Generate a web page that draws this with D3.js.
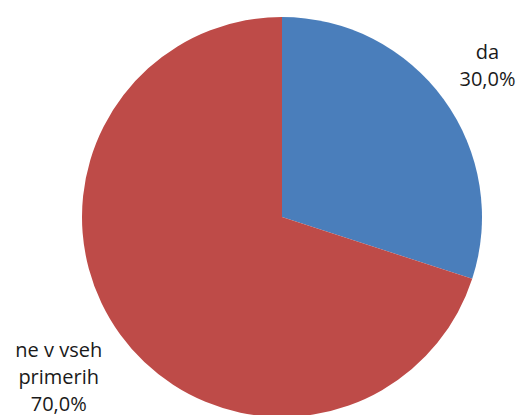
<!DOCTYPE html>
<meta charset='utf-8'>
<title>Pie</title>
<style>
body {
  margin: 0;
  background-color: #fff;
}
</style>
<svg width="525" height="415"></svg>
<script src="https://d3js.org/d3.v7.min.js"></script>
<script>

// chart data
var categories = ["da", "ne v vseh primerih"];
var values = [30.0, 70.0];
var labelLines = [["da", "30,0%"], ["ne v vseh", "primerih", "70,0%"]];
var colors = ["#4a7ebb", "#be4b48"];

var svg = d3.select("svg");

var cx = 282, cy = 217, radius = 200;

var pie = d3.pie()
    .sort(null)
    .value(function(d) { return d; });

var arc = d3.arc()
    .innerRadius(0)
    .outerRadius(radius);

var slices = pie(values);

var g = svg.append("g")
    .attr("transform", "translate(" + cx + "," + cy + ")");

g.selectAll("path.slice")
    .data(slices)
  .enter().append("path")
    .attr("class", "slice")
    .attr("d", arc)
    .attr("fill", function(d, i) { return colors[i]; });

// labels sit outside the pie, along the middle angle of each slice
var labelRadius = [radius + 54, radius + 76];
var lineHeight = 27;

g.selectAll("text.label")
    .data(slices)
  .enter().append("text")
    .attr("class", "label")
    .attr("text-anchor", "middle")
    .attr("font-family", "Open Sans, sans-serif")
    .attr("font-size", 20)
    .attr("fill", "#1a1a1a")
    .each(function(d, i) {
      var a = (d.startAngle + d.endAngle) / 2;
      var x = Math.sin(a) * labelRadius[i];
      var y = -Math.cos(a) * labelRadius[i];
      var lines = labelLines[i];
      var y0 = y - (lines.length - 1) * lineHeight / 2 + 5;
      d3.select(this).selectAll("tspan")
          .data(lines)
        .enter().append("tspan")
          .attr("x", x)
          .attr("y", function(t, j) { return y0 + j * lineHeight; })
          .text(function(t) { return t; });
    });

</script>
